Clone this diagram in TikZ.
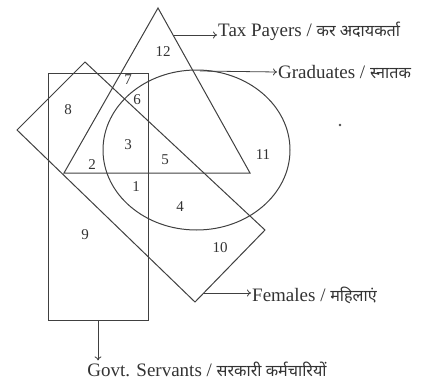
\documentclass[tikz,border=0pt]{standalone}
\usepackage{fontspec}
\setmainfont{Liberation Serif}
\newfontfamily\hindi[Script=Devanagari,Scale=0.85]{Noto Sans}
\usetikzlibrary{arrows.meta,calc,positioning}

\begin{document}
\begin{tikzpicture}[>={To[length=4pt,width=7pt]}, x=1pt, y=-1pt,
    venn/.style={line width=1pt, black!75},
    num/.style={font=\fontsize{15}{15}\selectfont, text=black!80, inner sep=0pt},
    lbl/.style={font=\fontsize{19}{19}\selectfont, text=black!80, inner sep=1pt, anchor=west},
    pointer/.style={->, line width=0.8pt, black!75}]
  \useasboundingbox (0,0) rectangle (447,383);
  % the four sets
  \draw[venn] (158,8) -- (250,173) -- (64,173) -- cycle;              % tax payers
  \draw[venn] (196.5,150) ellipse [x radius=93.5pt, y radius=80pt];   % graduates
  \draw[venn] (17,130) -- (85,62) -- (265,230) -- (195,302) -- cycle; % females
  \draw[venn] (48,73) rectangle (148,320);                            % govt servants
  % region numbers
  \node[num] (n1)  at (136,187) {1};
  \node[num] (n2)  at (92,165)  {2};
  \node[num] (n3)  at (128,145) {3};
  \node[num] (n4)  at (180,207) {4};
  \node[num] (n5)  at (165,160) {5};
  \node[num] (n6)  at (137,100) {6};
  \node[num] (n7)  at (128,80)  {7};
  \node[num] (n8)  at (68,110)  {8};
  \node[num] (n9)  at (85,235)  {9};
  \node[num] (n10) at (220,248) {10};
  \node[num] (n11) at (263,155) {11};
  \node[num] (n12) at (163,52)  {12};
  % set names
  \node[lbl] (tax)  at (217,31)  {Tax Payers / {\hindi कर अदायकर्ता}};
  \node[lbl] (grad) at (277,72)  {Graduates / {\hindi स्नातक}};
  \node[lbl] (fem)  at (251,295) {Females / {\hindi महिलाएं}};
  \node[lbl, anchor=center] (govt) at (207,369) {Govt. Servants / {\hindi सरकारी कर्मचारियों}};
  % pointers
  \coordinate (taxfoot)  at (173,35);
  \coordinate (gradfoot) at (200,71);
  \coordinate (femfoot)  at (203,293);
  \coordinate (govtfoot) at (98,320);
  \draw[pointer] (taxfoot) -- (taxfoot -| tax.west);
  \draw[pointer] (gradfoot) -- (grad.west);
  \draw[pointer] (femfoot) -- (femfoot -| fem.west);
  \draw[pointer] (govtfoot) -- (govtfoot |- govt.north);
  \fill[black!70] (340,125) circle (1.4pt);
\end{tikzpicture}
\end{document}
